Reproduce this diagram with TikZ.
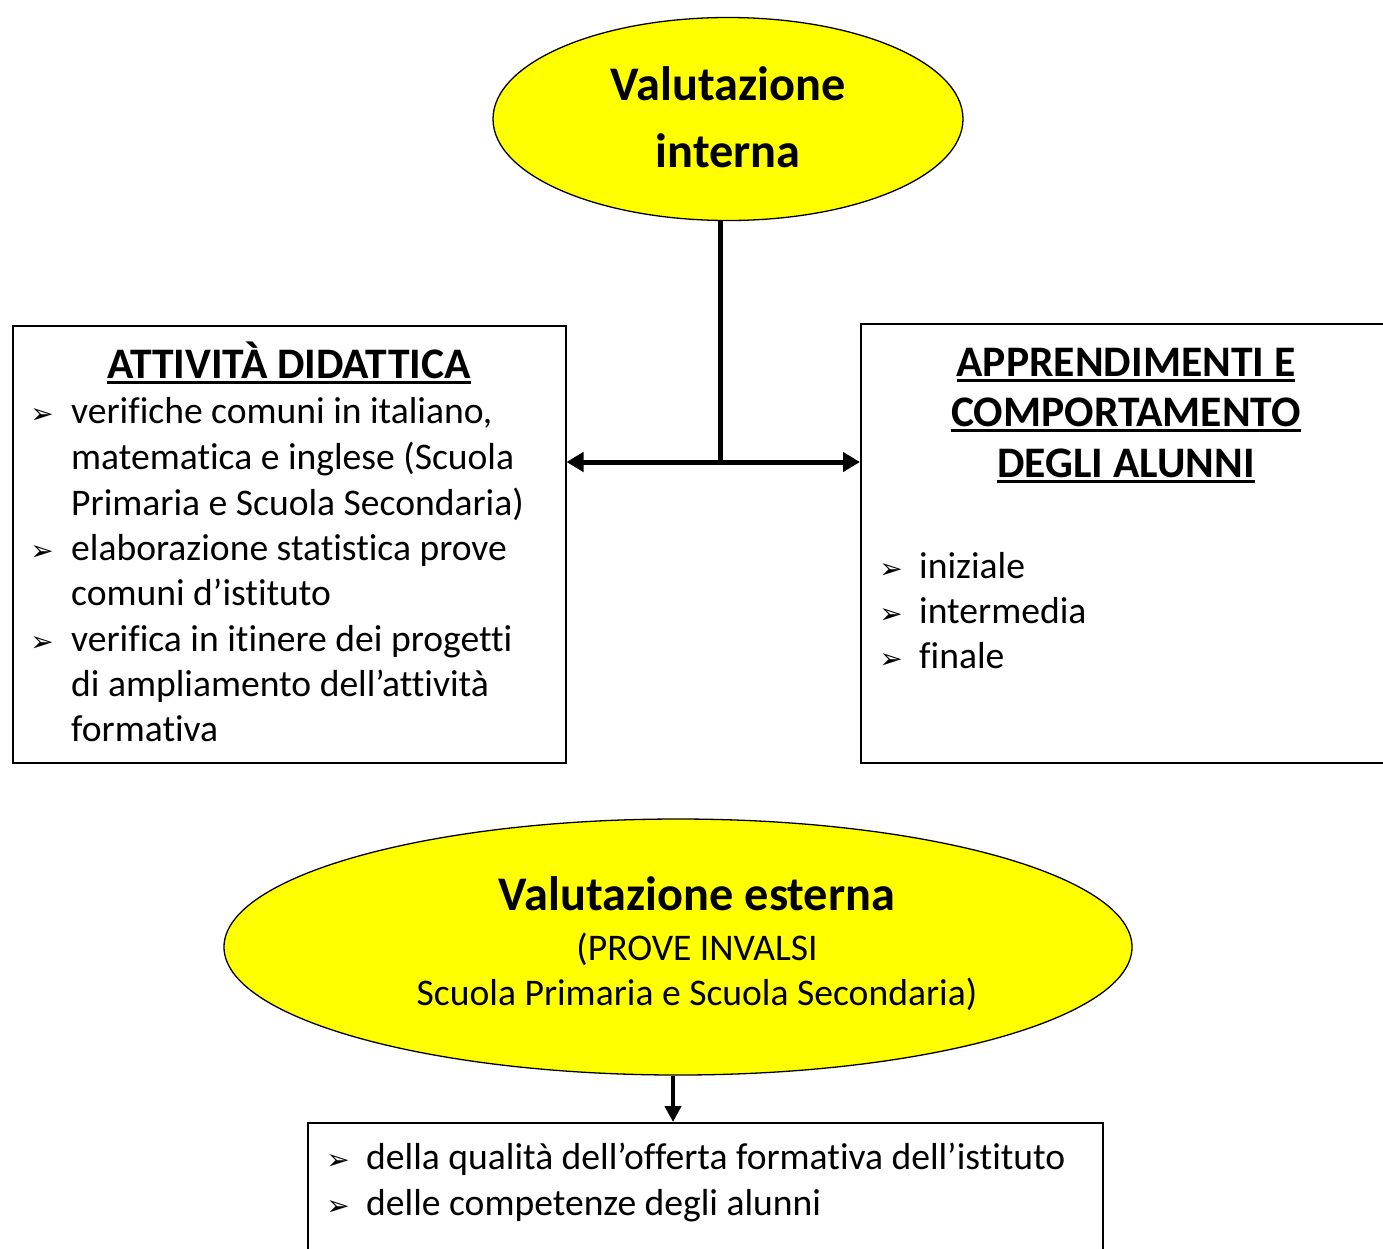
\documentclass[tikz,border=0pt]{standalone}
\usepackage{fontspec}
\setmainfont{Carlito}[Ligatures={NoCommon}]
\newfontfamily\dejavu{DejaVu Sans}
\usetikzlibrary{shapes.geometric,arrows.meta}
\definecolor{yel}{RGB}{255,255,0}
\newcommand\myul[1]{\setbox0\hbox{#1}\rlap{\rule[-5.5pt]{\wd0}{2.6pt}}\box0}
\newcommand\bodyfont{\fontsize{37.6}{45}\selectfont}
\newcommand\headfont{\fontsize{43.6}{51}\selectfont\bfseries}
\newcommand\bigfont{\fontsize{48.3}{57}\selectfont\bfseries}
\begin{document}
\begin{tikzpicture}[x=1pt,y=-1pt,
  oval/.style={ellipse, draw, line width=1.3pt, fill=yel, inner sep=0pt},
  frame/.style={draw, line width=1.5pt},
  txt/.style={anchor=base west, inner sep=0pt, font=\bodyfont},
  ctxt/.style={anchor=base, inner sep=0pt, font=\bodyfont},
  head/.style={anchor=base, inner sep=0pt, font=\headfont},
  big/.style={anchor=base, inner sep=0pt, font=\bigfont},
  bul/.style={anchor=base, inner sep=0pt, font=\dejavu\fontsize{28}{28}\selectfont},
  conn/.style={line width=5pt}
]
\useasboundingbox (0,0) rectangle (1383,1248);
\fill[white] (0,0) rectangle (1383,1248);

% top ellipse
\node[oval, minimum width=470pt, minimum height=203pt] (top) at (728,119) {};
\node[big] (t1) at (728,100) {Valutazione};
\node[big] (t2) at (728,167) {interna};

% boxes
\node[frame, rectangle, minimum width=553pt, minimum height=437pt, anchor=north west] (left) at (12,325) {};
\node[frame, rectangle, minimum width=560pt, minimum height=439pt, anchor=north west] (right) at (860,323) {};

% connectors
\coordinate (j) at (720,462);
\draw[conn] (j |- top.south) -- (j);
\draw[conn, {Triangle[length=17pt,width=19pt]}-{Triangle[length=17pt,width=19pt]}] (left.east |- j) -- (right.west |- j);

% left box text
\node[head] (lh) at (289,378) {\myul{ATTIVITÀ DIDATTICA}};
\node[bul] (lb1) at (42,423) {➢};
\node[txt] (l1) at (71,423) {verifiche comuni in italiano,};
\node[txt] (l2) at (71,469) {matematica e inglese (Scuola};
\node[txt] (l3) at (71,515) {Primaria e Scuola Secondaria)};
\node[bul] (lb2) at (42,560) {➢};
\node[txt] (l4) at (71,560) {elaborazione statistica prove};
\node[txt] (l5) at (71,605) {comuni d’istituto};
\node[bul] (lb3) at (42,651) {➢};
\node[txt] (l6) at (71,651) {verifica in itinere dei progetti};
\node[txt] (l7) at (71,696) {di ampliamento dell’attività};
\node[txt] (l8) at (71,741) {formativa};

% right box text
\node[head] (rh1) at (1126,376) {\myul{APPRENDIMENTI E}};
\node[head] (rh2) at (1126,426) {\myul{COMPORTAMENTO}};
\node[head] (rh3) at (1126,477) {\myul{DEGLI ALUNNI}};
\node[bul] (rb1) at (891,578) {➢};
\node[txt] (r1) at (919,578) {iniziale};
\node[bul] (rb2) at (891,623) {➢};
\node[txt] (r2) at (919,623) {intermedia};
\node[bul] (rb3) at (891,668) {➢};
\node[txt] (r3) at (919,668) {finale};

% bottom ellipse
\node[oval, minimum width=908pt, minimum height=256pt] (bot) at (678,947) {};
\node[big] (b1) at (697,910) {Valutazione esterna};
\node[ctxt] (b2) at (697,960) {(PROVE INVALSI};
\node[ctxt] (b3) at (697,1005) {Scuola Primaria e Scuola Secondaria)};

% bottom box
\node[frame, rectangle, minimum width=795pt, minimum height=160pt, anchor=north west] (low) at (307,1122) {};
\coordinate (j2) at (673,1100);
\draw[line width=4pt, -{Triangle[length=16pt,width=16pt]}] (j2 |- bot.south) -- (j2 |- low.north);
\node[bul] (bb1) at (338,1169) {➢};
\node[txt] (o1) at (366,1169) {della qualità dell’offerta formativa dell’istituto};
\node[bul] (bb2) at (338,1215) {➢};
\node[txt] (o2) at (366,1215) {delle competenze degli alunni};
\end{tikzpicture}
\end{document}
